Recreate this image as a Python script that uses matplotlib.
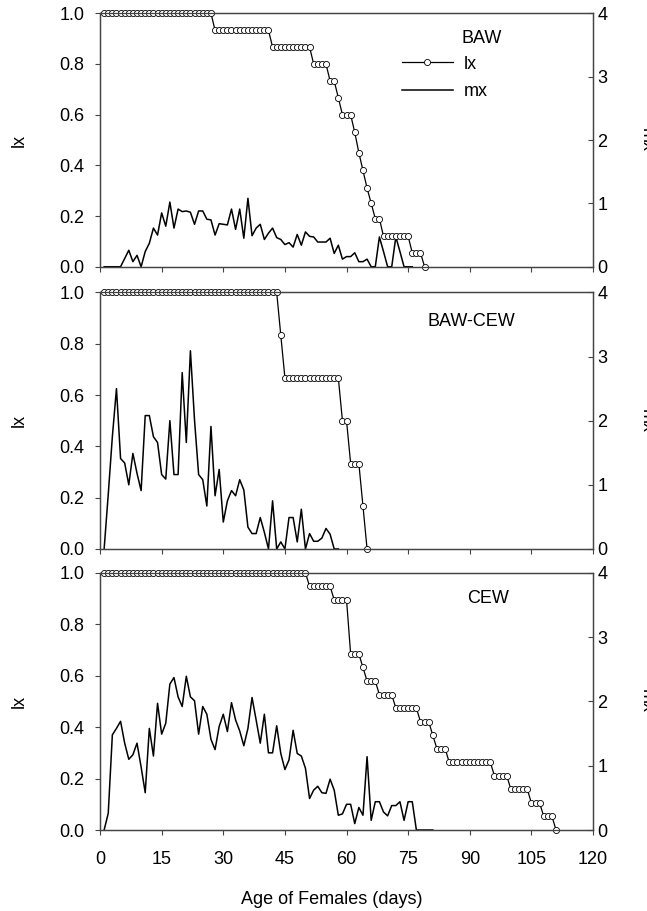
import numpy as np
import matplotlib
matplotlib.use('Agg')
import matplotlib.pyplot as plt

plt.rcParams['font.family'] = ['Liberation Sans', 'DejaVu Sans']

# ---- BAW ----
baw_lx_age = np.arange(1, 80)
baw_lx = [1.0, 1.0, 1.0, 1.0, 1.0, 1.0, 1.0, 1.0, 1.0, 1.0,
          1.0, 1.0, 1.0, 1.0, 1.0, 1.0, 1.0, 1.0, 1.0, 1.0,
          1.0, 1.0, 1.0, 1.0, 1.0, 1.0, 1.0,
          0.933, 0.933, 0.933, 0.933, 0.933, 0.933, 0.933,
          0.933, 0.933, 0.933, 0.933, 0.933, 0.933, 0.933,
          0.867, 0.867, 0.867, 0.867, 0.867, 0.867, 0.867, 0.867, 0.867, 0.867,
          0.8, 0.8, 0.8, 0.8, 0.733, 0.733, 0.667, 0.6, 0.6, 0.6,
          0.53, 0.45, 0.38, 0.31, 0.25, 0.19, 0.19,
          0.12, 0.12, 0.12, 0.12, 0.12, 0.12, 0.12,
          0.055, 0.055, 0.055, 0.0]
baw_mx_age = np.arange(1, 77)
baw_mx = [0, 0, 0, 0, 0, 0.13, 0.26, 0.08, 0.18, 0,
          0.24, 0.37, 0.61, 0.5, 0.85, 0.64, 1.02, 0.61, 0.91, 0.87,
          0.88, 0.86, 0.67, 0.88, 0.88, 0.75, 0.74, 0.5, 0.68, 0.67,
          0.66, 0.91, 0.59, 0.91, 0.45, 1.08, 0.49, 0.61, 0.67, 0.43,
          0.53, 0.61, 0.46, 0.43, 0.35, 0.38, 0.31, 0.51, 0.34, 0.55,
          0.48, 0.47, 0.39, 0.39, 0.39, 0.45, 0.21, 0.34, 0.12, 0.16,
          0.16, 0.22, 0.08, 0.08, 0.12, 0, 0, 0.47, 0.24, 0,
          0, 0.47, 0.24, 0, 0, 0]

# ---- BAW-CEW ----
hyb_lx_age = np.arange(1, 66)
hyb_lx = [1.0, 1.0, 1.0, 1.0, 1.0, 1.0, 1.0, 1.0, 1.0, 1.0,
          1.0, 1.0, 1.0, 1.0, 1.0, 1.0, 1.0, 1.0, 1.0, 1.0,
          1.0, 1.0, 1.0, 1.0, 1.0, 1.0, 1.0, 1.0, 1.0, 1.0,
          1.0, 1.0, 1.0, 1.0, 1.0, 1.0, 1.0, 1.0, 1.0, 1.0,
          1.0, 1.0, 1.0,
          0.833,
          0.667, 0.667, 0.667, 0.667, 0.667, 0.667, 0.667,
          0.667, 0.667, 0.667, 0.667, 0.667, 0.667, 0.667,
          0.5, 0.5, 0.333, 0.333, 0.333, 0.167, 0.0]
hyb_mx_age = np.arange(1, 59)
hyb_mx = [0, 0.85, 1.75, 2.5, 1.41, 1.34, 1.0, 1.49, 1.18, 0.91,
          2.08, 2.08, 1.75, 1.66, 1.16, 1.09, 2.0, 1.16, 1.16, 2.75,
          1.66, 3.09, 2.01, 1.16, 1.08, 0.67, 1.91, 0.83, 1.24, 0.42,
          0.75, 0.91, 0.83, 1.08, 0.92, 0.34, 0.24, 0.24, 0.49, 0.26,
          0, 0.75, 0, 0.11, 0, 0.49, 0.49, 0.11, 0.62, 0,
          0.24, 0.12, 0.12, 0.17, 0.32, 0.23, 0, 0]

# ---- CEW ----
cew_lx_age = np.arange(1, 112)
cew_lx = [1.0, 1.0, 1.0, 1.0, 1.0, 1.0, 1.0, 1.0, 1.0, 1.0,
          1.0, 1.0, 1.0, 1.0, 1.0, 1.0, 1.0, 1.0, 1.0, 1.0,
          1.0, 1.0, 1.0, 1.0, 1.0, 1.0, 1.0, 1.0, 1.0, 1.0,
          1.0, 1.0, 1.0, 1.0, 1.0, 1.0, 1.0, 1.0, 1.0, 1.0,
          1.0, 1.0, 1.0, 1.0, 1.0, 1.0, 1.0, 1.0, 1.0, 1.0,
          0.947, 0.947, 0.947, 0.947, 0.947, 0.947,
          0.895, 0.895, 0.895, 0.895,
          0.684, 0.684, 0.684, 0.632, 0.579, 0.579, 0.579,
          0.526, 0.526, 0.526, 0.526,
          0.474, 0.474, 0.474, 0.474, 0.474, 0.474,
          0.421, 0.421, 0.421, 0.368, 0.316, 0.316, 0.316,
          0.263, 0.263, 0.263, 0.263, 0.263, 0.263, 0.263, 0.263, 0.263, 0.263, 0.263,
          0.211, 0.211, 0.211, 0.211,
          0.158, 0.158, 0.158, 0.158, 0.158,
          0.105, 0.105, 0.105, 0.053, 0.053, 0.053, 0.0]
cew_mx_age = np.arange(1, 82)
cew_mx = [0, 0.26, 1.48, 1.58, 1.69, 1.35, 1.1, 1.17, 1.35, 0.98,
          0.58, 1.58, 1.15, 1.97, 1.49, 1.66, 2.27, 2.37, 2.07, 1.92,
          2.39, 2.07, 2.01, 1.49, 1.92, 1.8, 1.41, 1.25, 1.61, 1.8,
          1.53, 1.98, 1.71, 1.54, 1.31, 1.58, 2.06, 1.71, 1.35, 1.8,
          1.2, 1.2, 1.62, 1.19, 0.94, 1.09, 1.55, 1.19, 1.15, 0.96,
          0.49, 0.62, 0.68, 0.58, 0.57, 0.79, 0.62, 0.23, 0.25, 0.4,
          0.4, 0.1, 0.35, 0.23, 1.14, 0.15, 0.44, 0.44, 0.28, 0.22,
          0.38, 0.38, 0.44, 0.15, 0.44, 0.44, 0, 0, 0, 0, 0]

x_ticks = [0, 15, 30, 45, 60, 75, 90, 105, 120]
lx_ticks = [0.0, 0.2, 0.4, 0.6, 0.8, 1.0]
mx_ticks = [0, 1, 2, 3, 4]

spine_col = '#444444'
fs = 13

fig = plt.figure(figsize=(6.47, 9.11), dpi=100)
left, width = 0.1546, 0.762
panels = [
    (0.7072, 0.2782, baw_lx_age, baw_lx, baw_mx_age, baw_mx, 'BAW', (0.734, 0.90)),
    (0.3974, 0.2816, hyb_lx_age, hyb_lx, hyb_mx_age, hyb_mx, 'BAW-CEW', (0.665, 0.885)),
    (0.0889, 0.2824, cew_lx_age, cew_lx, cew_mx_age, cew_mx, 'CEW', (0.744, 0.898)),
]

for i, (bot, h, la, lx, ma, mx, name, txy) in enumerate(panels):
    ax = fig.add_axes([left, bot, width, h])
    ax2 = ax.twinx()
    ax2.plot(ma, mx, color='black', lw=1.1, label='mx')
    ax.plot(la, lx, '-o', color='black', lw=0.9, ms=4.4, mfc='white',
            mec='black', mew=0.6, clip_on=False, label='lx')
    ax.set_zorder(ax2.get_zorder() + 1)
    ax.patch.set_visible(False)

    ax.set_xlim(0, 120)
    ax.set_ylim(0, 1.0)
    ax2.set_ylim(0, 4)
    ax.set_xticks(x_ticks)
    ax.set_yticks(lx_ticks)
    ax.set_yticklabels(['%.1f' % v for v in lx_ticks])
    ax2.set_yticks(mx_ticks)
    ax.tick_params(axis='both', direction='out', length=3.8, width=0.8,
                   color=spine_col, labelsize=fs)
    ax.tick_params(axis='y', pad=7.5)
    ax2.tick_params(axis='y', direction='in', length=3.8, width=0.8,
                    color=spine_col, labelsize=fs, pad=3)
    if i < 2:
        ax.tick_params(axis='x', labelbottom=False)
    else:
        ax.tick_params(axis='x', pad=11)
        ax.set_xlabel('Age of Females (days)', fontsize=fs, va='center')
        ax.xaxis.set_label_coords(0.471, -0.272)
    for a in (ax, ax2):
        for s in a.spines.values():
            s.set_color(spine_col)
            s.set_linewidth(0.9)

    ax.set_ylabel('lx', fontsize=fs, rotation=90, va='center')
    ax.yaxis.set_label_coords(-0.163, 0.5)
    ax2.set_ylabel('mx', fontsize=fs, rotation=270, va='bottom')
    ax2.yaxis.set_label_coords(1.091, 0.5)

    ax.text(txy[0], txy[1], name, transform=ax.transAxes, fontsize=fs,
            ha='left', va='center')

    if i == 0:
        hl, ll = ax.get_legend_handles_labels()
        hm, lm = ax2.get_legend_handles_labels()
        ax.legend(hl + hm, ll + lm, loc='upper left', bbox_to_anchor=(0.6126, 0.833),
                  frameon=False, fontsize=fs, numpoints=1, handlelength=2.8,
                  handletextpad=0.6, labelspacing=0.6, borderpad=0, borderaxespad=0)

fig.savefig('out.png', dpi=100)
